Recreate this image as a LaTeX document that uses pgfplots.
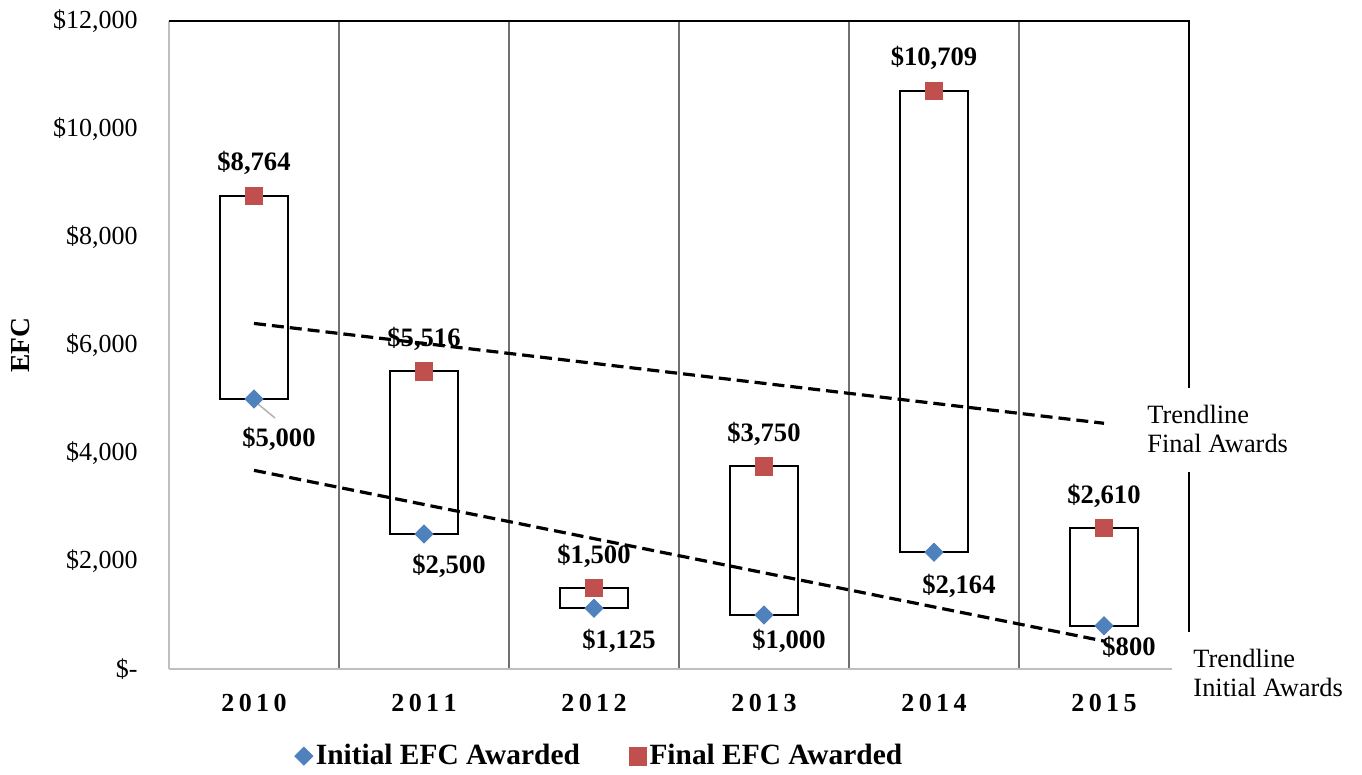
\documentclass[border=0pt]{standalone}
\usepackage{fontspec}
\setmainfont{Liberation Serif}
\usepackage{pgfplots}
\usepackage{pgfplotstable}
\pgfplotsset{compat=1.18}
\usepgfplotslibrary{statistics}

\definecolor{initblue}{HTML}{4F81BD}
\definecolor{finalred}{HTML}{C0504D}
\definecolor{gridgray}{HTML}{707070}

% initial EFC, dy = label offset below the marker
\pgfplotstableread{
x y dy
0 5000 -24
1 2500 -19.5
2 1125 -20
3 1000 -16.5
4 2164 -20.5
5 800 -15
}\initialtab

\pgfplotstableread{
x y
0 8764
1 5516
2 1500
3 3750
4 10709
5 2610
}\finaltab

\newcommand{\yr}[4]{#1\kern2.2pt#2\kern2.2pt#3\kern2.2pt#4}
\newcommand{\efcbox}[3]{%
  \addplot[black, line width=1pt, forget plot, boxplot prepared={draw position=#1,
    lower whisker=#2, lower quartile=#2, median=#2,
    upper quartile=#3, upper whisker=#3, box extend=0.4, whisker extend=0}] coordinates {};}

\begin{document}
\begin{tikzpicture}
\begin{axis}[
  scale only axis, width=510pt, height=324pt,
  xmin=-0.5, xmax=5.5, ymin=0, ymax=12000,
  clip=false,
  axis line style={draw=none},
  scaled y ticks=false,
  boxplot/draw direction=y,
  xtick={0,...,5},
  xticklabels={\yr2010,\yr2011,\yr2012,\yr2013,\yr2014,\yr2015},
  minor xtick={0.5,1.5,2.5,3.5,4.5},
  xminorgrids, minor grid style={gridgray, line width=0.75pt},
  ytick={0,2000,...,12000},
  yticklabels={{\$-\hspace{6.5pt}},{\$2,000},{\$4,000},{\$6,000},{\$8,000},{\$10,000},{\$12,000}},
  major tick length=0pt, minor tick length=0pt,
  yticklabel style={font=\fontsize{13}{15}\selectfont, anchor=east, inner sep=0pt, xshift=-15.5pt},
  xticklabel style={font=\bfseries\fontsize{13}{15}\selectfont, anchor=base, inner sep=0pt, yshift=-21pt},
  legend style={draw=none, fill=none, at={(0.4225,-0.1345)}, anchor=center,
    legend columns=2, font=\bfseries\fontsize{14.7}{16}\selectfont,
    nodes={inner sep=1.5pt},
    /tikz/every even column/.append style={column sep=23pt}},
  legend image code/.code={\draw[#1] plot coordinates {(4.5pt,0pt)};},
  /pgf/number format/fixed,
  /pgf/number format/precision=0,
  /pgf/number format/1000 sep={,},
  /pgf/number format/assume math mode=true,
]
\efcbox{0}{5000}{8764}
\efcbox{1}{2500}{5516}
\efcbox{2}{1125}{1500}
\efcbox{3}{1000}{3750}
\efcbox{4}{2164}{10709}
\efcbox{5}{800}{2610}

% linear trendlines
\addplot[black, line width=1.6pt, dash pattern=on 6pt off 3pt, forget plot] coordinates {(0,6399) (5,4550)};
\addplot[black, line width=1.6pt, dash pattern=on 6pt off 3pt, forget plot] coordinates {(0,3679) (5,517)};

\addplot[only marks, mark=square*, mark size=3.2pt, color=initblue, mark options={rotate=45},
  point meta=y,
  visualization depends on={\thisrow{dy} \as \labeldy},
  nodes near coords={\$\pgfmathprintnumber{\pgfplotspointmeta}},
  nodes near coords style={anchor=base, inner sep=0pt, xshift=12.5pt, yshift=\labeldy pt,
    text=black, font=\bfseries\fontsize{13.3}{15}\selectfont}]
  table[x=x, y=y] {\initialtab};
\addlegendentry{Initial EFC Awarded}

\addplot[only marks, mark=square*, mark size=4.4pt, color=finalred,
  point meta=y,
  nodes near coords={\$\pgfmathprintnumber{\pgfplotspointmeta}},
  nodes near coords style={anchor=base, inner sep=0pt, yshift=12.5pt,
    text=black, font=\bfseries\fontsize{13.3}{15}\selectfont}]
  table[x=x, y=y] {\finaltab};
\addlegendentry{Final EFC Awarded}

% frame
\draw[gray!50, line width=0.75pt] (rel axis cs:0,0) -- (rel axis cs:0,1);
\draw[gray!50, line width=0.75pt] (rel axis cs:0,0) -- (rel axis cs:0.983,0);
\draw[black, line width=1pt] (rel axis cs:0,1) -- (rel axis cs:1,1) -- (rel axis cs:1,0.434);
\draw[black, line width=1pt] (rel axis cs:1,0.304) -- (rel axis cs:1,0.057);

% leader line for $5,000
\draw[gray!60, line width=0.75pt] (axis cs:0.0235,4907) -- (axis cs:0.1235,4648);

\node[rotate=90, font=\bfseries\fontsize{13.75}{15}\selectfont] at (axis cs:-1.376,6000) {EFC};

\node[anchor=base west, inner sep=0pt, font=\fontsize{13.2}{15}\selectfont] at (axis cs:5.253,4555) {Trendline};
\node[anchor=base west, inner sep=0pt, font=\fontsize{13.2}{15}\selectfont] at (axis cs:5.253,4000) {Final Awards};
\node[anchor=base west, inner sep=0pt, font=\fontsize{13.2}{15}\selectfont] at (axis cs:5.524,37) {Trendline};
\node[anchor=base west, inner sep=0pt, font=\fontsize{13.2}{15}\selectfont] at (axis cs:5.524,-518) {Initial Awards};

% page size as the reference
\path (rel axis cs:0,0) ++(-84.5pt,-50.5pt) (rel axis cs:1,1) ++(86.5pt,10.5pt);
\end{axis}
\end{tikzpicture}
\end{document}
